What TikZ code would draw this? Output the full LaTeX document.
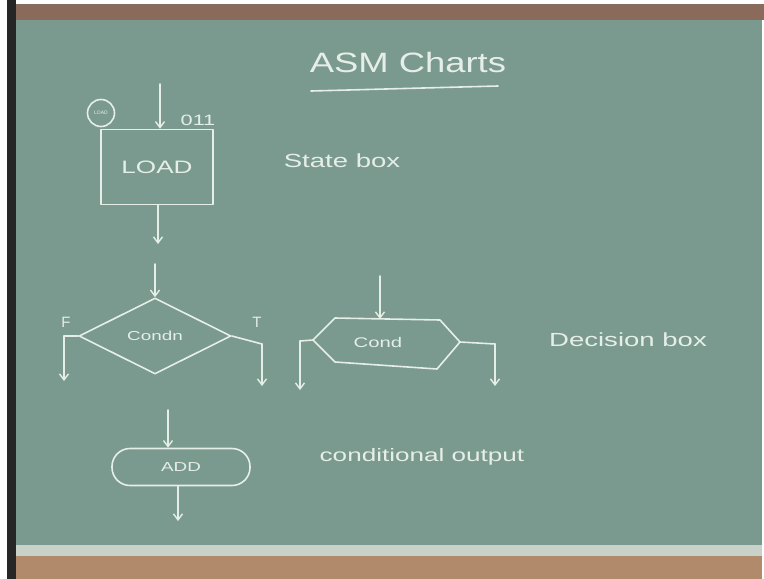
\documentclass[tikz,border=0pt]{standalone}
\usepackage{fontspec}
\setmainfont{Liberation Sans}
\usetikzlibrary{arrows.meta,shapes.geometric}
\definecolor{board}{HTML}{7A9A90}
\definecolor{chalk}{HTML}{E6EEE8}
\definecolor{woodtop}{HTML}{8A6A5A}
\definecolor{woodbot}{HTML}{B08A6A}
\definecolor{ledge}{HTML}{C8D2C8}
\newcommand{\hw}[1]{\scalebox{1.45}[1]{#1}}
\tikzset{
  chalkline/.style={draw=chalk, line width=1.6pt, line cap=round, line join=round},
  chalkarrow/.style={chalkline, -{Straight Barb[length=6pt,width=9pt,line width=1.4pt]}},
  chalktext/.style={text=chalk, inner sep=0pt},
}
\begin{document}
\begin{tikzpicture}[x=1pt,y=-1pt]
\useasboundingbox (0,0) rectangle (764,579);
% board and frame
\fill[white] (0,0) rectangle (764,579);
\fill[black!85] (7,0) rectangle (16,579);
\fill[woodtop] (16,4) rectangle (764,20);
\fill[board] (16,20) rectangle (762,545);
\fill[ledge] (16,545) rectangle (762,556);
\fill[woodbot] (16,556) rectangle (762,579);
% title
\node[chalktext, font=\fontsize{28}{30}\selectfont] (title) at (408,62) {\scalebox{1.3}[1]{ASM Charts}};
\coordinate (ulA) at (311,91);
\coordinate (ulB) at (498,86);
\draw[chalkline] (ulA) -- (ulB);
% state box
\node[chalkline, rectangle, minimum width=112pt, minimum height=75pt, chalktext,
      font=\fontsize{18}{20}\selectfont] (load) at (157,167) {\hw{LOAD}};
\node[chalkline, circle, minimum size=27pt, inner sep=0pt, text=chalk,
      font=\fontsize{5}{6}\selectfont] (sname) at (101,113) {LOAD};
\coordinate (loadin) at (160,84);
\draw[chalkarrow] (loadin) -- (load.north -| loadin);
\node[chalktext, font=\fontsize{15}{17}\selectfont] (code) at (198,120) {\hw{011}};
\coordinate (loadout) at (158,244);
\draw[chalkarrow] (load.south -| loadout) -- (loadout);
\node[chalktext, font=\fontsize{19}{21}\selectfont] (statelbl) at (342,161) {\hw{State box}};
% decision diamond
\node[chalkline, diamond, minimum width=152pt, minimum height=76pt, inner sep=0pt,
      chalktext, font=\fontsize{13}{15}\selectfont] (dec) at (155,336) {\hw{Condn}};
\coordinate (decin) at (155,264);
\draw[chalkarrow] (decin) -- (dec.north);
\node[chalktext, font=\fontsize{15}{17}\selectfont] (F) at (66,322) {F};
\node[chalktext, font=\fontsize{15}{17}\selectfont] (T) at (257,322) {T};
\coordinate (fc) at (64,336);
\coordinate (fout) at (64,381);
\draw[chalkline] (dec.west) -- (fc);
\draw[chalkarrow] (fc) -- (fout);
\coordinate (tc) at (262,344);
\coordinate (tout) at (262,386);
\draw[chalkline] (dec.east) -- (tc);
\draw[chalkarrow] (tc) -- (tout);
% decision hexagon
\coordinate (hL) at (313,340);
\coordinate (hTL) at (335,318);
\coordinate (hTR) at (440,320);
\coordinate (hR) at (460,342);
\coordinate (hBR) at (437,369);
\coordinate (hBL) at (335,362);
\draw[chalkline] (hL) -- (hTL) -- (hTR) -- (hR) -- (hBR) -- (hBL) -- cycle;
\node[chalktext, font=\fontsize{14}{16}\selectfont] (hex) at (378,342) {\hw{Cond}};
\coordinate (hin) at (380,276);
\coordinate (hintop) at (380,319);
\draw[chalkarrow] (hin) -- (hintop);
\coordinate (hlc) at (300,341);
\coordinate (hlout) at (300,390);
\draw[chalkline] (hL) -- (hlc);
\draw[chalkarrow] (hlc) -- (hlout);
\coordinate (hrc) at (495,344);
\coordinate (hrout) at (495,386);
\draw[chalkline] (hR) -- (hrc);
\draw[chalkarrow] (hrc) -- (hrout);
\node[chalktext, font=\fontsize{19}{21}\selectfont] (declbl) at (628,340) {\hw{Decision box}};
% conditional output
\node[chalkline, rectangle, rounded corners=18pt, minimum width=138pt, minimum height=37pt,
      chalktext, font=\fontsize{13}{15}\selectfont] (add) at (181,467) {\hw{ADD}};
\coordinate (addin) at (168,410);
\draw[chalkarrow] (addin) -- (add.north -| addin);
\coordinate (addout) at (178,521);
\draw[chalkarrow] (add.south -| addout) -- (addout);
\node[chalktext, font=\fontsize{18}{20}\selectfont] (condlbl) at (422,457) {\hw{conditional output}};
\end{tikzpicture}
\end{document}
